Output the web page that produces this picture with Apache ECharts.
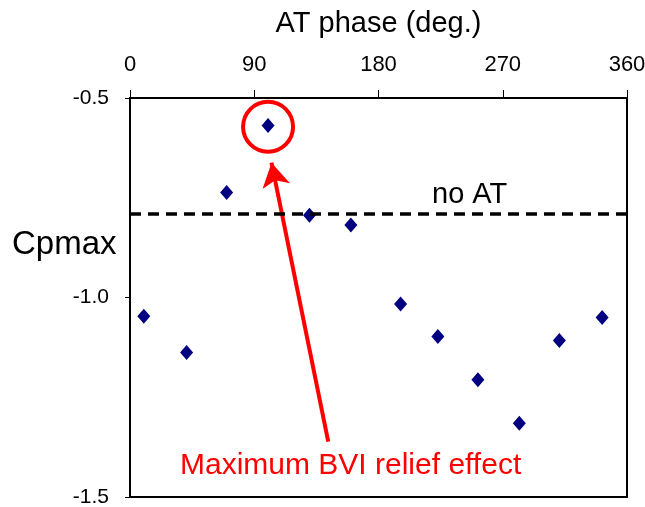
<!DOCTYPE html>
<html>
<head>
<meta charset="utf-8">
<script src="https://cdn.jsdelivr.net/npm/echarts@6/dist/echarts.min.js"></script>
<style>html,body{margin:0;padding:0;background:#fff;}#c{width:645px;height:507px;}</style>
</head>
<body>
<div id="c"></div>
<script>
var phase = [10, 41, 70, 100, 130, 160, 196, 223, 252, 282, 311, 342];
var cpmax = [-1.047, -1.138, -0.737, -0.569, -0.794, -0.818, -1.016, -1.098, -1.206, -1.315, -1.108, -1.050];
var noAT = -0.791;
var highlight = [100, -0.572];
var arrowFrom = [143.6, -1.361];
var arrowTo = [102.5, -0.662];
var xTicks = [0, 90, 180, 270, 360];
var yTicks = [-0.5, -1.0, -1.5];

var chart = echarts.init(document.getElementById('c'), null, {renderer: 'canvas'});
var font = 'Liberation Sans, Arial, sans-serif';
chart.setOption({
  animation: false,
  backgroundColor: '#fff',
  grid: {left: 130, right: 18, top: 98, bottom: 10, outerBoundsMode: 'none', containLabel: false,
         show: true, borderColor: '#000', borderWidth: 2, backgroundColor: 'transparent'},
  xAxis: {
    type: 'value', position: 'top', min: xTicks[0], max: xTicks[xTicks.length - 1], interval: 90,
    name: 'AT phase (deg.)', nameLocation: 'middle', nameGap: 60,
    nameTextStyle: {fontFamily: font, fontSize: 29, color: '#000'},
    axisLine: {lineStyle: {color: '#000', width: 2}},
    axisTick: {show: true, inside: false, length: 8, lineStyle: {color: '#000'}},
    axisLabel: {fontFamily: font, fontSize: 22, color: '#000', margin: 22},
    splitLine: {show: false}
  },
  yAxis: {
    type: 'value', min: yTicks[2], max: yTicks[0], interval: 0.5,
    axisLine: {lineStyle: {color: '#000', width: 2}},
    axisTick: {show: true, inside: false, length: 5, lineStyle: {color: '#000'}},
    axisLabel: {fontFamily: font, fontSize: 21, color: '#000', margin: 21, formatter: function (v) { return v.toFixed(1); }},
    splitLine: {show: false}
  },
  graphic: [
    {type: 'text', left: 12, top: 228, style: {text: 'Cpmax', font: '33px ' + font, fill: '#000'}},
    {type: 'text', left: 432, top: 180, style: {text: 'no AT', font: '29px ' + font, fill: '#000'}},
    {type: 'text', left: 180, top: 451, style: {text: 'Maximum BVI relief effect', font: '30px ' + font, fill: '#ff0000'}}
  ],
  series: [{
    type: 'scatter',
    data: phase.map(function (p, i) { return [p, cpmax[i]]; }),
    symbol: 'diamond', symbolSize: [13, 15],
    itemStyle: {color: '#000080', opacity: 1},
    markLine: {
      silent: true, animation: false,
      data: [
        [{coord: arrowFrom, symbol: 'none', lineStyle: {color: '#ff0000', width: 4, type: 'solid'}}, {coord: arrowTo, symbol: 'arrow', symbolSize: [21, 24]}],
        {yAxis: noAT, symbol: 'none', lineStyle: {color: '#000', width: 3.5, type: [11, 7]}, label: {show: false}}
      ],
      symbol: ['none', 'none'],
      label: {show: false}
    },
    markPoint: {
      silent: true, animation: false,
      data: [{coord: highlight, symbol: 'circle', symbolSize: 50, itemStyle: {color: 'rgba(0,0,0,0)', borderColor: '#ff0000', borderWidth: 4}, label: {show: false}}]
    }
  }]
});
</script>
</body>
</html>
